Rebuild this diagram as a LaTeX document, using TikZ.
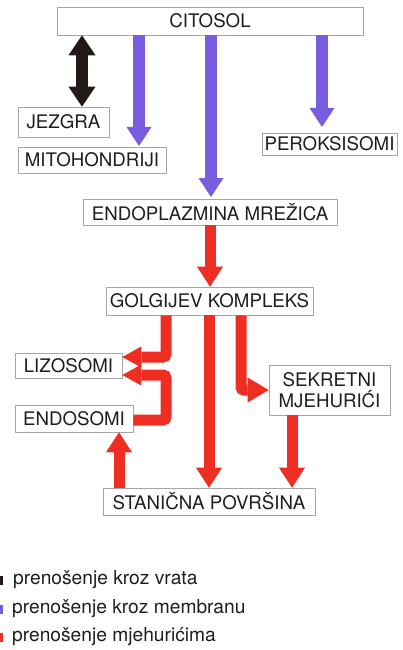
\documentclass[tikz,border=0pt]{standalone}
\usepackage{fontspec}
\setmainfont{TeX Gyre Heros}
\usetikzlibrary{arrows.meta}
\definecolor{pur}{RGB}{122,92,225}
\definecolor{rd}{RGB}{238,45,35}
\definecolor{blk}{RGB}{35,25,22}
\definecolor{txt}{RGB}{30,30,30}
\tikzset{
  box/.style={draw=black!35, line width=0.6pt, fill=white, inner sep=0pt, text=txt,
    font=\fontsize{18.7}{20.5}\selectfont, align=center},
  purarrow/.style={draw=pur, line width=12pt, -{Triangle[width=25pt,length=19pt,line width=0pt]}},
  redarrow/.style={draw=rd, line width=11pt, -{Triangle[width=26pt,length=20pt,line width=0pt]}},
  redbent/.style={draw=rd, line width=11pt, rounded corners=3pt, -{Triangle[width=21pt,length=19pt,line width=0pt]}},
  redbentbig/.style={redbent, -{Triangle[width=25pt,length=21pt,line width=0pt]}},
  blkarrow/.style={draw=blk, line width=12pt, {Triangle[width=27pt,length=20pt,line width=0pt]}-{Triangle[width=27pt,length=20pt,line width=0pt]}},
  legtext/.style={anchor=west, inner sep=0pt, text=txt, font=\fontsize{19.2}{21}\selectfont},
  legmark/.style={anchor=west, inner sep=0pt, minimum width=3pt, minimum height=9pt}
}
\begin{document}
\begin{tikzpicture}[x=1pt,y=-1pt]
\useasboundingbox (0,0) rectangle (402,650);
% nodes
\node[box, minimum width=306pt, minimum height=28pt] (citosol) at (210,21) {CITOSOL};
\node[box, minimum width=91pt, minimum height=30pt] (jezgra) at (63.5,122) {JEZGRA};
\node[box, minimum width=148pt, minimum height=26pt] (mito) at (92,160) {MITOHONDRIJI};
\node[box, minimum width=135pt, minimum height=22pt] (perok) at (329.5,144) {PEROKSISOMI};
\node[box, minimum width=254pt, minimum height=26pt] (er) at (210,212) {ENDOPLAZMINA MREŽICA};
\node[box, minimum width=207pt, minimum height=28pt] (golgi) at (209.5,301) {GOLGIJEV KOMPLEKS};
\node[box, minimum width=107pt, minimum height=25pt] (lizo) at (68.5,365.5) {LIZOSOMI};
\node[box, minimum width=118pt, minimum height=27pt] (endo) at (74,418.5) {ENDOSOMI};
\node[box, minimum width=121pt, minimum height=50pt] (sekr) at (329.5,390) {SEKRETNI\\MJEHURIĆI};
\node[box, minimum width=212pt, minimum height=27pt] (stan) at (209,501.5) {STANIČNA POVRŠINA};
% black double arrow
\draw[blkarrow] (82,0 |- citosol.south) -- (82,0 |- jezgra.north);
% purple arrows
\draw[purarrow] (139,0 |- citosol.south) -- (139,146);
\draw[purarrow] (211,0 |- citosol.south) -- (211,197);
\draw[purarrow] (322,0 |- citosol.south) -- (322,127);
% red arrows
\draw[redarrow] (210,0 |- er.south) -- (210,0 |- golgi.north);
\draw[redarrow] (209,0 |- golgi.south) -- (209,0 |- stan.north);
\draw[redarrow] (292,0 |- sekr.south) -- (292,0 |- stan.north);
\draw[redarrow] (119,0 |- stan.north) -- (119,0 |- endo.south);
\draw[redbent] (166,0 |- golgi.south) -- (166,357) -- (lizo.east |- 0,357);
\draw[redbent] (endo.east |- 0,420) -- (166,420) -- (166,375) -- (lizo.east |- 0,375);
\draw[redbentbig] (241,0 |- golgi.south) -- (241,390) -- (sekr.west |- 0,390);
% legend
\node[legmark, fill=blk] (m1) at (0,580) {};
\node[legmark, fill=pur] (m2) at (0,609) {};
\node[legmark, fill=rd] (m3) at (0,637) {};
\node[legtext] (l1) at (13,580) {prenošenje kroz vrata};
\node[legtext] (l2) at (12,609) {prenošenje kroz membranu};
\node[legtext] (l3) at (12,637) {prenošenje mjehurićima};
\end{tikzpicture}
\end{document}
